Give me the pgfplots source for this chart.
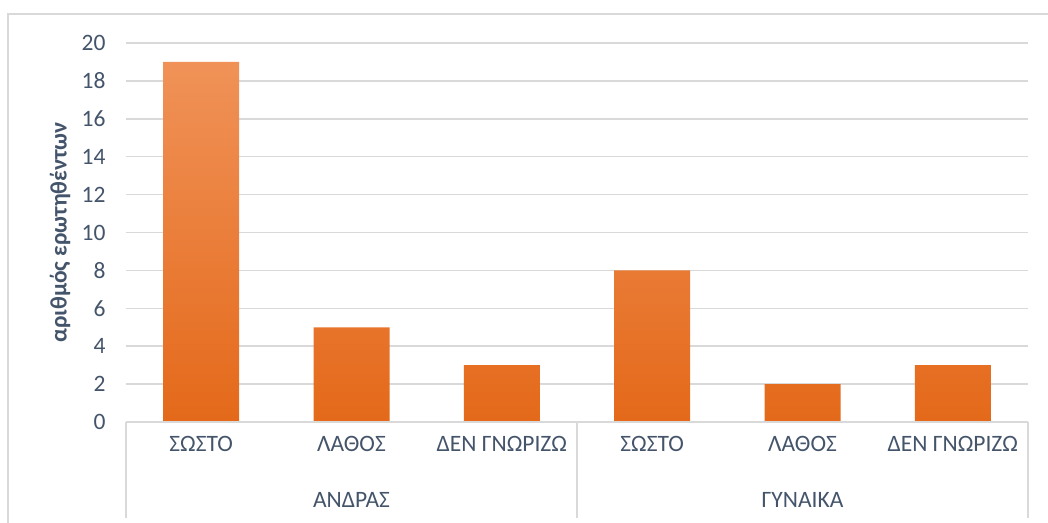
\documentclass[border=0pt]{standalone}
\usepackage{fontspec}
\setmainfont{Carlito}
\usepackage{pgfplots}
\pgfplotsset{compat=1.18}
\usetikzlibrary{shadings}
\definecolor{txt}{HTML}{44546A}
\definecolor{gridc}{HTML}{D9D9D9}
\definecolor{btop}{HTML}{F09258}
\definecolor{bmid}{HTML}{F5822F}
\definecolor{bbot}{HTML}{E4691A}
\begin{document}
\begin{tikzpicture}[x=1pt,y=1pt]
\useasboundingbox (0,0) rectangle (1048,522);
\draw[gridc, line width=1.2pt] (8,-10) -- (8,508) -- (1060,508);
\begin{axis}[
  at={(126pt,100pt)}, anchor=south west,
  width=902pt, height=379pt, scale only axis,
  xmin=-0.5, xmax=5.5, ymin=0, ymax=20,
  ytick={0,2,...,20},
  xtick={0,...,5},
  xticklabels={ΣΩΣΤΟ,ΛΑΘΟΣ,ΔΕΝ ΓΝΩΡΙΖΩ,ΣΩΣΤΟ,ΛΑΘΟΣ,ΔΕΝ ΓΝΩΡΙΖΩ},
  /pgf/number format/assume math mode=true,
  tick style={draw=none},
  ymajorgrids=true, xmajorgrids=false,
  y grid style={draw=gridc, line width=1.5pt},
  axis line style={draw=none},
  ticklabel style={font=\fontsize{23.5}{28}\selectfont, text=txt},
  yticklabel style={xshift=-17pt},
  xticklabel style={yshift=-11pt},
  every axis y label/.style={at={(axis description cs:-0.0732,0.5)}, rotate=90, anchor=center},
  ylabel={αριθμός ερωτηθέντων},
  ylabel style={font=\fontsize{23.5}{28}\selectfont\bfseries, text=txt},
  clip=false,
]
\addplot[ybar, bar width=76pt, draw=none, top color=btop, middle color=bmid, bottom color=bbot]
  coordinates {(0,19) (1,5) (2,3) (3,8) (4,2) (5,3)};
\draw[draw=gridc, line width=1.5pt] (axis cs:-0.5,0) -- (axis cs:5.5,0);
\draw[draw=gridc, line width=1.5pt] (axis cs:-0.5,0) -- ([yshift=-96pt]axis cs:-0.5,0);
\draw[draw=gridc, line width=1.5pt] (axis cs:2.5,0) -- ([yshift=-96pt]axis cs:2.5,0);
\draw[draw=gridc, line width=1.5pt] (axis cs:5.5,0) -- ([yshift=-96pt]axis cs:5.5,0);
\node[font=\fontsize{23.5}{28}\selectfont, text=txt] at ([yshift=-78pt]axis cs:1,0) {ΑΝΔΡΑΣ};
\node[font=\fontsize{23.5}{28}\selectfont, text=txt] at ([yshift=-78pt]axis cs:4,0) {ΓΥΝΑΙΚΑ};
\end{axis}
\end{tikzpicture}
\end{document}
